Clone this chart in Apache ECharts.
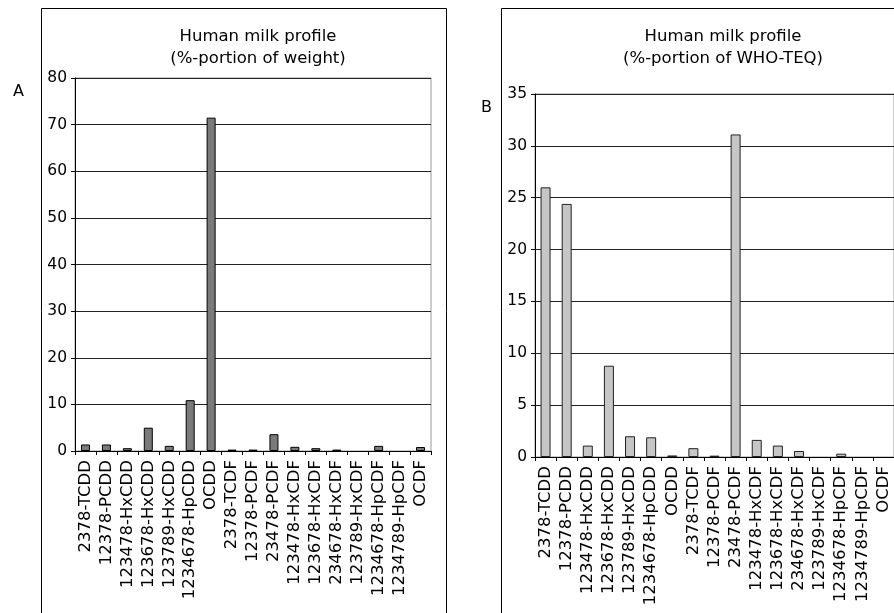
<!DOCTYPE html>
<html>
<head>
<meta charset="utf-8">
<script src="https://cdn.jsdelivr.net/npm/echarts@6/dist/echarts.min.js"></script>
<style>
  html, body { margin: 0; padding: 0; background: #fff; }
  #chart { width: 894px; height: 613px; }
</style>
</head>
<body>
<div id="chart"></div>
<script>
const categories = [
  '2378-TCDD', '12378-PCDD', '123478-HxCDD', '123678-HxCDD', '123789-HxCDD',
  '1234678-HpCDD', 'OCDD', '2378-TCDF', '12378-PCDF', '23478-PCDF',
  '123478-HxCDF', '123678-HxCDF', '234678-HxCDF', '123789-HxCDF',
  '1234678-HpCDF', '1234789-HpCDF', 'OCDF'
];
// null = no bar drawn in the reference
const weightPct = [1.4, 1.4, 0.6, 5.0, 1.1, 10.9, 71.5, 0.3, 0.3, 3.6, 0.9, 0.6, 0.3, null, 1.1, null, 0.85];
const teqPct = [26.0, 24.4, 1.1, 8.8, 2.0, 1.9, 0.15, 0.85, 0.13, 31.1, 1.65, 1.1, 0.58, null, 0.32, null, null];
const titleA = 'Human milk profile\n(%-portion of weight)';
const titleB = 'Human milk profile\n(%-portion of WHO-TEQ)';
const yTicksA = { min: 0, max: 80, interval: 10 };
const yTicksB = { min: 0, max: 35, interval: 5 };

const FONT = 'DejaVu Sans';
const chart = echarts.init(document.getElementById('chart'), null, { renderer: 'canvas' });

function xAxis(gridIndex) {
  return {
    type: 'category', gridIndex: gridIndex, data: categories,
    axisLine: { lineStyle: { color: '#000', width: 1 } },
    axisTick: { show: true, alignWithLabel: false, length: 4, lineStyle: { color: '#000' } },
    axisLabel: { rotate: 90, interval: 0, margin: 9, color: '#000', fontFamily: FONT, fontSize: 16.5 },
    splitLine: { show: false }
  };
}
function yAxis(gridIndex, t) {
  return {
    type: 'value', gridIndex: gridIndex, min: t.min, max: t.max, interval: t.interval,
    axisLine: { show: true, lineStyle: { color: '#000', width: 1 } },
    axisTick: { show: true, length: 4, lineStyle: { color: '#000' } },
    axisLabel: { margin: 8, color: '#000', fontFamily: FONT, fontSize: 15.5 },
    splitLine: { show: true, lineStyle: { color: '#222', width: 1 } }
  };
}

const titleStyle = { fontFamily: FONT, fontSize: 16.5, fontWeight: 'normal', color: '#000', lineHeight: 22 };

chart.setOption({
  animation: false,
  backgroundColor: '#fff',
  title: [
    { text: titleA, left: 253, top: 21, textAlign: 'center', textStyle: titleStyle },
    { text: titleB, left: 718, top: 21, textAlign: 'center', textStyle: titleStyle },
    { text: 'A', left: 8, top: 79, textStyle: { fontFamily: FONT, fontSize: 16, fontWeight: 'normal', color: '#000' } },
    { text: 'B', left: 476, top: 95, textStyle: { fontFamily: FONT, fontSize: 16, fontWeight: 'normal', color: '#000' } }
  ],
  graphic: [
    { type: 'rect', shape: { x: 41.5, y: 8.5, width: 405, height: 640 }, style: { fill: null, stroke: '#000', lineWidth: 1 }, z: -1 },
    { type: 'rect', shape: { x: 501.5, y: 8.5, width: 500, height: 640 }, style: { fill: null, stroke: '#000', lineWidth: 1 }, z: -1 }
  ],
  grid: [
    { left: 75, top: 78, width: 356, height: 373, show: true, borderColor: '#999', borderWidth: 1, backgroundColor: '#fff' },
    { left: 535, top: 94, width: 365, height: 363, show: true, borderColor: '#999', borderWidth: 1, backgroundColor: '#fff' }
  ],
  xAxis: [xAxis(0), xAxis(1)],
  yAxis: [yAxis(0, yTicksA), yAxis(1, yTicksB)],
  series: [
    { type: 'bar', xAxisIndex: 0, yAxisIndex: 0, data: weightPct, barWidth: 9,
      itemStyle: { color: '#7a7a7a', borderColor: '#000', borderWidth: 1 } },
    { type: 'bar', xAxisIndex: 1, yAxisIndex: 1, data: teqPct, barWidth: 10,
      itemStyle: { color: '#c6c6c6', borderColor: '#222', borderWidth: 1 } }
  ]
});
</script>
</body>
</html>
